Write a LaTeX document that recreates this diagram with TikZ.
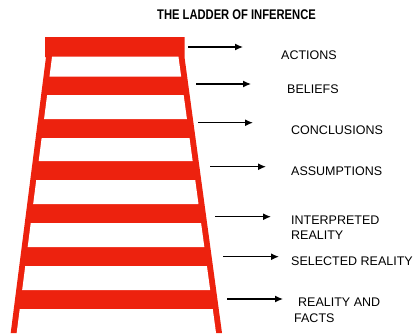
\documentclass[tikz,border=0pt]{standalone}
\usepackage{fontspec}
\setmainfont{Liberation Sans}
\usetikzlibrary{arrows.meta}
\definecolor{ladderred}{RGB}{237,34,14}
\tikzset{
  lbl/.style={anchor=base west, inner sep=0pt, font=\fontsize{12.5}{15}\selectfont},
  infarrow/.style={line width=1.3pt, -{Latex[length=8pt,width=7pt]}},
  window/.style={fill=white},
}
\begin{document}
\begin{tikzpicture}[x=1pt,y=-1pt]
\useasboundingbox (0,0) rectangle (413,333);
% title
\node[anchor=base, inner sep=0pt] (title) at (236.5,19.3)
  {\scalebox{0.8}[1]{\fontsize{14}{16}\selectfont\bfseries THE LADDER OF INFERENCE}};
% ladder body
\fill[ladderred] (45,37) -- (184.5,37) -- (184.5,57) -- (222,333) -- (10.7,333) -- (46,57) -- (45,57) -- cycle;
% white windows between rungs
\foreach \ya/\yb in {56.7/76.7, 95/119, 138/161, 180/204, 223/247, 266/290, 309/334}{
  \fill[window] ({52-0.128*(\ya-57)},\ya) -- ({178.5+0.136*(\ya-57)},\ya)
     -- ({178.5+0.136*(\yb-57)},\yb) -- ({52-0.128*(\yb-57)},\yb) -- cycle;
}
% arrows
\coordinate (a1s) at (188,47);    \coordinate (a1e) at (243,47);
\coordinate (a2s) at (196,84);    \coordinate (a2e) at (251,84);
\coordinate (a3s) at (198,122.7); \coordinate (a3e) at (253,122.7);
\coordinate (a4s) at (210,166.7); \coordinate (a4e) at (266,166.7);
\coordinate (a5s) at (215,216.7); \coordinate (a5e) at (271,216.7);
\coordinate (a6s) at (223,256.7); \coordinate (a6e) at (279,256.7);
\coordinate (a7s) at (227,299);   \coordinate (a7e) at (283,299);
\foreach \i in {1,...,7}{\draw[infarrow] (a\i s) -- (a\i e);}
% labels
\node[lbl] (actions) at (281,59.5) {ACTIONS};
\node[lbl] (beliefs) at (287,93.5) {BELIEFS};
\node[lbl] (conclusions) at (291,134.5) {CONCLUSIONS};
\node[lbl] (assumptions) at (291,175.2) {ASSUMPTIONS};
\node[lbl] (interp1) at (291,224.5) {INTERPRETED};
\node[lbl] (interp2) at (291,239.5) {REALITY};
\node[lbl] (selected) at (291,265.5) {SELECTED REALITY};
\node[lbl] (facts1) at (298,306.5) {REALITY AND};
\node[lbl] (facts2) at (294,322.2) {FACTS};
\end{tikzpicture}
\end{document}
